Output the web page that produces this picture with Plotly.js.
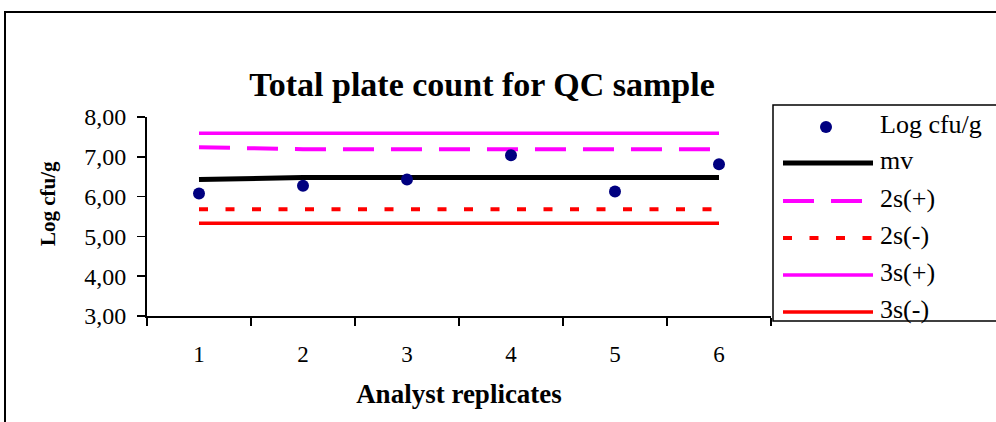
<!DOCTYPE html>
<html>
<head>
<meta charset="utf-8">
<script src="https://cdn.plot.ly/plotly-3.0.1.min.js"></script>
<style>html,body{margin:0;padding:0;background:#fff;}#chart{width:996px;height:422px;}</style>
</head>
<body>
<div id="chart"></div>
<script>
// ---- data ----
const replicates = ['1', '2', '3', '4', '5', '6'];
const logCfu   = [6.08, 6.27, 6.43, 7.04, 6.13, 6.81];
const mv       = [6.43, 6.48, 6.48, 6.48, 6.48, 6.48];
const s2plus   = [7.24, 7.19, 7.19, 7.19, 7.19, 7.19];
const s2minus  = [5.68, 5.68, 5.68, 5.68, 5.68, 5.68];
const s3plus   = [7.59, 7.59, 7.59, 7.59, 7.59, 7.59];
const s3minus  = [5.33, 5.33, 5.33, 5.33, 5.33, 5.33];
const seriesNames = ['Log cfu/g', 'mv', '2s(+)', '2s(-)', '3s(+)', '3s(-)'];
const chartTitle = 'Total plate count for QC sample';
const xTitle = 'Analyst replicates';
const yTitle = 'Log cfu/g';

// ---- styles ----
const FONT = 'Liberation Serif, Times New Roman, serif';
const NAVY = '#000080', MAGENTA = '#FF00FF', RED = '#FF0000';
const styles = {
  'Log cfu/g': {mode: 'markers', marker: {color: NAVY, size: 12}},
  'mv':     {mode: 'lines', line: {color: '#000000', width: 5}},
  '2s(+)':  {mode: 'lines', line: {color: MAGENTA, width: 4, dash: '31px,17px'}},
  '2s(-)':  {mode: 'lines', line: {color: RED, width: 4, dash: '9px,17.5px'}},
  '3s(+)':  {mode: 'lines', line: {color: MAGENTA, width: 3.5}},
  '3s(-)':  {mode: 'lines', line: {color: RED, width: 3.5}}
};
const values = {'Log cfu/g': logCfu, 'mv': mv, '2s(+)': s2plus, '2s(-)': s2minus, '3s(+)': s3plus, '3s(-)': s3minus};

// lines first, markers on top
const drawOrder = ['3s(+)', '2s(+)', 'mv', '2s(-)', '3s(-)', 'Log cfu/g'];
const traces = drawOrder.map(n => Object.assign({
  type: 'scatter', name: n, x: replicates, y: values[n], showlegend: false,
  hoverinfo: 'x+y+name', cliponaxis: false
}, styles[n]));

// ---- geometry (pixels) ----
const W = 996, H = 422;
const M = {l: 147, r: 225, t: 117, b: 106};
const PW = W - M.l - M.r, PH = H - M.t - M.b;
const px = x => (x - M.l) / PW;       // pixel x -> paper x
const py = y => (H - M.b - y) / PH;   // pixel y -> paper y

const shapes = [];
const annotations = [];
// outer chart border (cut by the picture edges on right/bottom)
shapes.push({type: 'rect', xref: 'paper', yref: 'paper', x0: px(5), x1: px(1100), y0: py(500), y1: py(12),
  line: {color: '#000', width: 2}, fillcolor: 'rgba(0,0,0,0)', layer: 'below'});
// legend box
shapes.push({type: 'rect', xref: 'paper', yref: 'paper', x0: px(773), x1: px(1100), y0: py(321), y1: py(105),
  line: {color: '#000', width: 1.5}, fillcolor: 'rgba(0,0,0,0)'});

const legendRowY = [127, 163, 201, 238, 275, 312];
seriesNames.forEach((n, i) => {
  const yy = legendRowY[i];
  const st = styles[n];
  if (st.mode === 'markers') {
    const r = st.marker.size / 2;
    shapes.push({type: 'circle', xref: 'paper', yref: 'paper', x0: px(826 - r), x1: px(826 + r), y0: py(yy + r), y1: py(yy - r),
      fillcolor: st.marker.color, line: {width: 0}});
  } else {
    shapes.push({type: 'line', xref: 'paper', yref: 'paper', x0: px(783), x1: px(873), y0: py(yy), y1: py(yy),
      line: {color: st.line.color, width: st.line.width, dash: st.line.dash || 'solid'}});
  }
  annotations.push({xref: 'paper', yref: 'paper', x: px(878), y: py(yy - 3), xanchor: 'left', yanchor: 'middle',
    text: n, showarrow: false, font: {family: FONT, size: 26, color: '#000'}});
});
// y axis title (placed off-centre like the reference)
annotations.push({xref: 'paper', yref: 'paper', x: px(48), y: py(204), xanchor: 'center', yanchor: 'middle',
  textangle: -90, text: '<b>' + yTitle + '</b>', showarrow: false, font: {family: FONT, size: 21, color: '#000'}});

const layout = {
  width: W, height: H,
  margin: M,
  paper_bgcolor: '#fff', plot_bgcolor: '#fff',
  separators: ',.',
  showlegend: false,
  font: {family: FONT, color: '#000'},
  title: {text: '<b>' + chartTitle + '</b>', font: {family: FONT, size: 34, color: '#000'},
    xref: 'container', yref: 'container', x: 482 / W, xanchor: 'center', y: 1 - 84 / H, yanchor: 'middle'},
  xaxis: {
    type: 'category', range: [-0.5, 5.5], tickson: 'boundaries',
    ticks: 'outside', ticklen: 8, tickwidth: 1.5, tickcolor: '#000',
    showline: true, linewidth: 2, linecolor: '#000', showgrid: false, zeroline: false,
    tickfont: {family: FONT, size: 23, color: '#000'}, ticklabelstandoff: 16,
    title: {text: '<b>' + xTitle + '</b>', font: {family: FONT, size: 27, color: '#000'}, standoff: 19},
    automargin: false, fixedrange: true
  },
  yaxis: {
    range: [3, 8], dtick: 1, tick0: 3, tickformat: '.2f',
    ticks: 'outside', ticklen: 8, tickwidth: 1.5, tickcolor: '#000',
    showline: true, linewidth: 2, linecolor: '#000', showgrid: false, zeroline: false,
    tickfont: {family: FONT, size: 24, color: '#000'}, ticklabelstandoff: 6,
    automargin: false, fixedrange: true
  },
  shapes: shapes,
  annotations: annotations
};

Plotly.newPlot('chart', traces, layout, {displayModeBar: false, staticPlot: true});
</script>
</body>
</html>
